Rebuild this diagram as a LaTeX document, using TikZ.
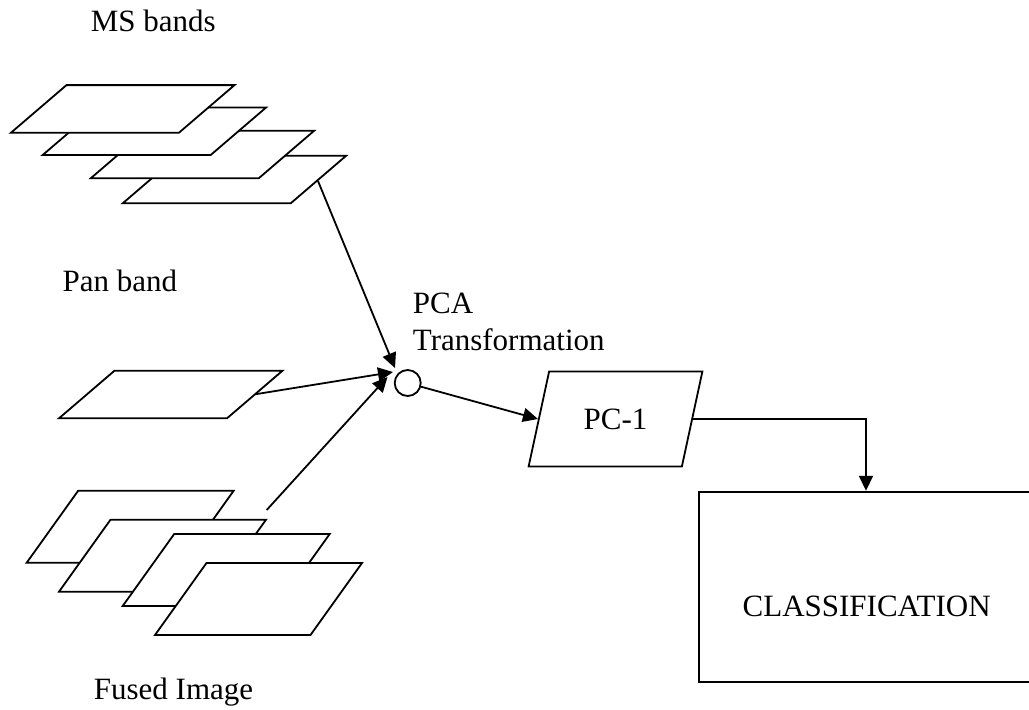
\documentclass[tikz,border=0pt]{standalone}
\usepackage{fontspec}
\setmainfont{Liberation Serif}
\usetikzlibrary{arrows.meta,shapes.geometric}
% bottom-left corner given; MS / pan sheet
\newcommand\mssheet[2]{\draw[sheet] (#1,#2) -- ++(168,0) -- ++(55.5,-47.6) -- ++(-168,0) -- cycle;}
% bottom-left corner given; fused sheet
\newcommand\fusheet[2]{\draw[sheet] (#1,#2) -- ++(155.5,0) -- ++(51.5,-72) -- ++(-155.5,0) -- cycle;}
\begin{document}
\begin{tikzpicture}[x=1pt,y=-1pt,
  line width=1.8pt, line join=miter,
  sheet/.style={draw=black, fill=white},
  lbl/.style={font=\fontsize{31}{37}\selectfont, inner sep=0pt},
  arr/.style={-{Triangle[length=15pt,width=14pt]}, line width=1.8pt},
  para/.style={draw, trapezium, trapezium left angle=64.7, trapezium right angle=115.3,
     trapezium stretches=true, minimum width=175, minimum height=95, inner sep=0pt},
  box/.style={draw, rectangle, minimum width=334, minimum height=190.6, inner sep=0pt}
]
\useasboundingbox (0,0) rectangle (1029,710);

% labels
\node[lbl, anchor=base west] (ms) at (90,31.7) {MS bands};
\node[lbl, anchor=base west] (pan) at (61.7,291.7) {Pan band};
\node[lbl, anchor=base west, align=left] (pcat) at (412,350) {PCA\\Transformation};
\node[lbl, anchor=base west] (fused) at (93,699) {Fused Image};

% MS bands (back to front)
\mssheet{122.7}{203.3}
\mssheet{90.7}{178.3}
\mssheet{42.7}{155}
\mssheet{11}{132.7}

% Pan band
\mssheet{59}{418.3}

% Fused image (back to front)
\fusheet{26.7}{562.7}
\fusheet{59}{591.7}
\fusheet{122.7}{606}
\fusheet{155}{635}

% PCA node
\node[circle, draw, minimum size=26, inner sep=0pt] (pca) at (407.7,383) {};

% PC-1
\node[para, lbl] (pc1) at (615.5,419) {PC-1};

% Classification
\node[box] (cls) at (866,587) {};
\node[lbl, anchor=base] (clst) at (866.7,616.7) {CLASSIFICATION};

% connector end points
\coordinate (msout) at (318,181);
\coordinate (panout) at (255,394.3);
\coordinate (fuout) at (266.7,510);
\coordinate (inms) at (395,368);
\coordinate (inpan) at (393,372);
\coordinate (infu) at (387.5,377);

\draw[arr] (msout) -- (inms);
\draw[arr] (panout) -- (inpan);
\draw[arr] (fuout) -- (infu);
\draw[arr] (pca) -- (pc1.west);
\draw[arr] (pc1.east) -| (cls.north);
\end{tikzpicture}
\end{document}
